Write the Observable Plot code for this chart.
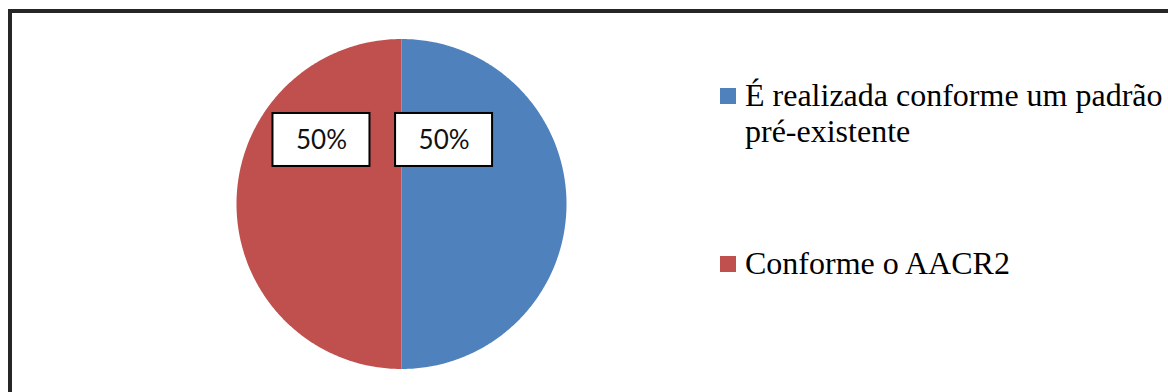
<!DOCTYPE html>
<html><head><meta charset="utf-8">
<script src="https://cdn.jsdelivr.net/npm/d3@7"></script>
<script src="https://cdn.jsdelivr.net/npm/@observablehq/plot@0.6"></script>
<style>
html,body{margin:0;padding:0;background:#fff;overflow:hidden;width:1168px;height:392px}
#wrap{position:relative;width:1168px;height:392px;overflow:hidden}
#frame{position:absolute;left:8px;top:9px;width:1300px;height:500px;border:4px solid #262626;box-sizing:border-box}
#chart{position:absolute;left:0;top:0}
.leg{position:absolute;left:720px;font-family:"Liberation Serif","Times New Roman",serif;font-size:32px;line-height:36px;color:#000}
.sw{position:absolute;left:0;top:11px;width:16px;height:16px}
.lt{position:absolute;left:25px;top:0;width:440px}
</style></head><body>
<div id="wrap"><div id="frame"></div><div id="chart"></div><div id="legend"></div></div>
<script>
const categories = ["É realizada conforme um padrão pré-existente", "Conforme o AACR2"];
const values = [50, 50];
const colors = ["#4F81BD", "#C0504D"];

// layout (pixels)
const cx = 401, cy = 203.5, R = 165;
const labelOffsets = [[0.258, 0.388], [-0.485, 0.388]]; // label box centres, in radius units
const boxW = 97, boxH = 53;
const legendTops = [77, 245];

const total = d3.sum(values);
const arcs = d3.pie().sort(null).startAngle(0).endAngle(2 * Math.PI)(values);

const slices = arcs.map((a, i) => {
  const pts = [{x: 0, y: 0}];
  const n = 240;
  for (let k = 0; k <= n; k++) {
    const t = a.startAngle + (a.endAngle - a.startAngle) * k / n;
    pts.push({x: Math.sin(t), y: Math.cos(t)});
  }
  pts.push({x: 0, y: 0});
  return {pts, color: colors[i]};
});

const labels = arcs.map((a, i) => ({
  x: labelOffsets[i][0],
  y: labelOffsets[i][1],
  text: Math.round(values[i] / total * 100) + "%"
}));
const hw = boxW / 2 / R, hh = boxH / 2 / R;

const chart = Plot.plot({
  width: 1168,
  height: 392,
  margin: 0,
  style: {background: "transparent", overflow: "visible"},
  x: {domain: [-1, 1], range: [cx - R, cx + R], axis: null},
  y: {domain: [-1, 1], range: [cy + R, cy - R], axis: null},
  marks: [
    ...slices.map(s => Plot.line(s.pts, {x: "x", y: "y", fill: s.color, stroke: "none", curve: "linear"})),
    Plot.rect(labels, {x1: d => d.x - hw, x2: d => d.x + hw, y1: d => d.y - hh, y2: d => d.y + hh, fill: "white", stroke: "black", strokeWidth: 2}),
    Plot.text(labels, {x: "x", y: "y", text: "text", fontSize: 26, fontFamily: "Lato, 'Open Sans', sans-serif", fill: "#111", textAnchor: "middle", lineAnchor: "middle", dy: 1})
  ]
});
document.getElementById("chart").appendChild(chart);

const legend = document.getElementById("legend");
categories.forEach((c, i) => {
  const item = document.createElement("div");
  item.className = "leg";
  item.style.top = legendTops[i] + "px";
  const sw = document.createElement("div");
  sw.className = "sw";
  sw.style.background = colors[i];
  const lt = document.createElement("div");
  lt.className = "lt";
  lt.textContent = c;
  item.appendChild(sw);
  item.appendChild(lt);
  legend.appendChild(item);
});
</script>
</body></html>
